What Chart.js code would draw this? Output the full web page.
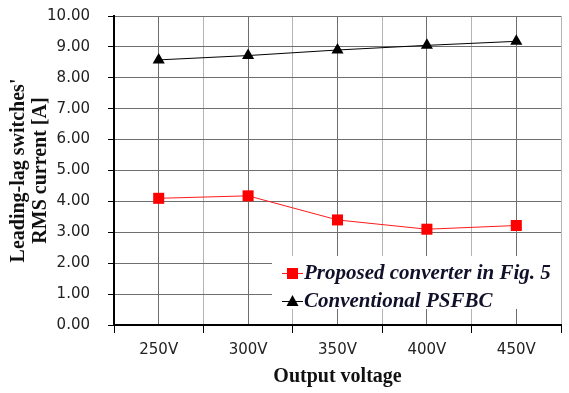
<!DOCTYPE html>
<html>
<head>
<meta charset="utf-8">
<script src="https://cdn.jsdelivr.net/npm/chart.js@4/dist/chart.umd.min.js"></script>
<style>
  html, body { margin: 0; padding: 0; background: #ffffff; }
  #wrap { width: 569px; height: 393px; position: relative; }
</style>
</head>
<body>
<div id="wrap"><canvas id="c" width="569" height="393"></canvas></div>
<script>
const categories = ['250V', '300V', '350V', '400V', '450V'];
const proposed = [4.10, 4.18, 3.40, 3.10, 3.22];
const conventional = [8.58, 8.72, 8.90, 9.05, 9.18];
const yTicks = [0, 1, 2, 3, 4, 5, 6, 7, 8, 9, 10];
const seriesNames = ['Proposed converter in Fig. 5', 'Conventional PSFBC'];
const yTitle = ["Leading-lag switches'", 'RMS current [A]'];
const xTitle = 'Output voltage';

// category i sits at the centre of slot i on a 0..2n linear axis
const toPoints = arr => arr.map((v, i) => ({ x: 2 * i + 1, y: v }));

const legendPlugin = {
  id: 'insideLegend',
  afterDatasetsDraw(chart) {
    const ctx = chart.ctx;
    const area = chart.chartArea;
    ctx.save();
    ctx.fillStyle = '#ffffff';
    ctx.fillRect(272, 256, area.right - 272, 53);
    const items = chart.data.datasets;
    const rows = [273, 301];
    items.forEach((ds, i) => {
      const y = rows[i];
      ctx.strokeStyle = ds.borderColor;
      ctx.lineWidth = 1;
      ctx.beginPath();
      ctx.moveTo(282, y + 0.5);
      ctx.lineTo(303, y + 0.5);
      ctx.stroke();
      ctx.fillStyle = ds.pointBackgroundColor;
      if (ds.pointStyle === 'rect') {
        ctx.fillRect(287, y - 5, 11, 11);
      } else {
        ctx.beginPath();
        ctx.moveTo(292.5, y - 6);
        ctx.lineTo(298.5, y + 5);
        ctx.lineTo(286.5, y + 5);
        ctx.closePath();
        ctx.fill();
      }
      ctx.fillStyle = '#10102a';
      ctx.font = 'italic bold 21px "Liberation Serif", "Times New Roman", serif';
      ctx.textBaseline = 'middle';
      ctx.textAlign = 'left';
      ctx.fillText(ds.label, 304, y + 1);
    });
    ctx.restore();
  }
};

const tickFont = { family: '"DejaVu Sans", sans-serif', size: 15 };

new Chart(document.getElementById('c'), {
  type: 'line',
  data: {
    datasets: [
      {
        label: seriesNames[0],
        data: toPoints(proposed),
        borderColor: '#ff1a1a',
        borderWidth: 1,
        pointStyle: 'rect',
        pointRadius: 7.8,
        pointBackgroundColor: '#ff0000',
        pointBorderColor: '#ff0000',
        pointBorderWidth: 0,
        tension: 0
      },
      {
        label: seriesNames[1],
        data: toPoints(conventional),
        borderColor: '#000000',
        borderWidth: 1,
        pointStyle: 'triangle',
        pointRadius: 7,
        pointBackgroundColor: '#000000',
        pointBorderColor: '#000000',
        pointBorderWidth: 0,
        tension: 0
      }
    ]
  },
  options: {
    responsive: false,
    animation: false,
    layout: { padding: { top: 16, right: 1, left: 0, bottom: 0 } },
    plugins: { legend: { display: false }, tooltip: { enabled: false } },
    scales: {
      x: {
        type: 'linear',
        min: 0,
        max: categories.length * 2,
        afterFit(scale) { scale.height = 68; },
        afterBuildTicks(scale) {
          const t = [];
          for (let v = 0; v <= categories.length * 2; v++) t.push({ value: v });
          scale.ticks = t;
        },
        ticks: {
          autoSkip: false,
          maxRotation: 0,
          padding: 8,
          color: '#222222',
          font: tickFont,
          callback: v => (v % 2 === 1 ? categories[(v - 1) / 2] : '')
        },
        grid: {
          color: c => (c.tick && c.tick.value % 2 === 1 ? '#6e6e6e' : '#b4b4b4'),
          tickColor: c => (c.tick && c.tick.value % 2 === 1 ? 'rgba(0,0,0,0)' : '#000000'),
          tickLength: 8,
          lineWidth: 1
        },
        border: { color: '#000000', width: 2 },
        title: {
          display: true,
          text: xTitle,
          color: '#111111',
          font: { family: '"Liberation Serif", "Times New Roman", serif', size: 20, weight: 'bold', lineHeight: 1.2 },
          padding: { top: 0, bottom: 4 }
        }
      },
      y: {
        type: 'linear',
        min: 0,
        max: 10,
        afterFit(scale) {
          scale.width = 114;
          scale.paddingTop = 0;
          scale.paddingBottom = 0;
        },
        afterBuildTicks(scale) { scale.ticks = yTicks.map(v => ({ value: v })); },
        ticks: {
          padding: 18,
          color: '#222222',
          font: tickFont,
          callback: v => Number(v).toFixed(2)
        },
        grid: {
          color: '#6e6e6e',
          tickColor: '#000000',
          tickLength: 6,
          lineWidth: 1
        },
        border: { color: '#000000', width: 2 },
        title: {
          display: true,
          text: yTitle,
          color: '#111111',
          font: { family: '"Liberation Serif", "Times New Roman", serif', size: 20, weight: 'bold', lineHeight: 1.1 },
          padding: { top: 8, bottom: 0 }
        }
      }
    }
  },
  plugins: [legendPlugin]
});
</script>
</body>
</html>
